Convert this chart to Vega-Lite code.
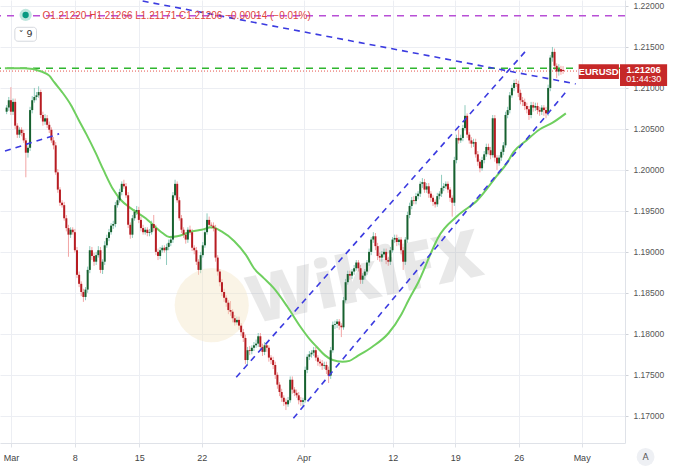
{
  "$schema": "https://vega.github.io/schema/vega-lite/v6.json",
  "width": 625,
  "height": 443,
  "autosize": {"type": "none"},
  "padding": {"left": 0, "top": 0, "right": 55, "bottom": 26},
  "background": "#ffffff",
  "config": {
    "view": {"stroke": null},
    "font": "Liberation Sans",
    "axisX": {"grid": true, "gridColor": "#eceef3", "gridWidth": 1, "domainColor": "#dfe2e8", "tickColor": "#dfe2e8", "tickSize": 4,
      "labelColor": "#444444", "labelFontSize": 9, "labelFont": "Liberation Sans", "labelPadding": 6,
      "labelFlush": false, "labelOverlap": false, "labelBound": false},
    "axisY": {"grid": true, "gridColor": "#eceef3", "gridWidth": 1, "domainColor": "#dfe2e8", "tickColor": "#cfd2d8", "tickSize": 3,
      "labelColor": "#555555", "labelFontSize": 8.5, "labelFont": "Liberation Sans", "labelPadding": 5}
  },
  "datasets": {
    "candles": [
      {"k":-2,"o":1.2071,"h":1.2079,"l":1.2068,"c":1.2076},
      {"k":-1,"o":1.2076,"h":1.2089,"l":1.2072,"c":1.2085},
      {"k":0,"o":1.2085,"h":1.2101,"l":1.2067,"c":1.2071},
      {"k":1,"o":1.2071,"h":1.2087,"l":1.2067,"c":1.2083},
      {"k":2,"o":1.2083,"h":1.2087,"l":1.2050,"c":1.2054},
      {"k":3,"o":1.2054,"h":1.2057,"l":1.2039,"c":1.2043},
      {"k":4,"o":1.2043,"h":1.2052,"l":1.2039,"c":1.2049},
      {"k":5,"o":1.2049,"h":1.2052,"l":1.2041,"c":1.2045},
      {"k":6,"o":1.2045,"h":1.2049,"l":1.2033,"c":1.2036},
      {"k":7,"o":1.2036,"h":1.2039,"l":1.1991,"c":1.2021},
      {"k":8,"o":1.2021,"h":1.2030,"l":1.2015,"c":1.2027},
      {"k":9,"o":1.2027,"h":1.2077,"l":1.2023,"c":1.2073},
      {"k":10,"o":1.2073,"h":1.2090,"l":1.2069,"c":1.2085},
      {"k":11,"o":1.2085,"h":1.2100,"l":1.2082,"c":1.2089},
      {"k":12,"o":1.2089,"h":1.2095,"l":1.2085,"c":1.2091},
      {"k":13,"o":1.2091,"h":1.2102,"l":1.2088,"c":1.2095},
      {"k":14,"o":1.2095,"h":1.2098,"l":1.2063,"c":1.2067},
      {"k":15,"o":1.2067,"h":1.2071,"l":1.2054,"c":1.2059},
      {"k":16,"o":1.2059,"h":1.2068,"l":1.2055,"c":1.2063},
      {"k":17,"o":1.2063,"h":1.2067,"l":1.2051,"c":1.2055},
      {"k":18,"o":1.2055,"h":1.2059,"l":1.2045,"c":1.2049},
      {"k":19,"o":1.2049,"h":1.2052,"l":1.2033,"c":1.2036},
      {"k":20,"o":1.2036,"h":1.2040,"l":1.2025,"c":1.2030},
      {"k":21,"o":1.2030,"h":1.2034,"l":1.1994,"c":1.1997},
      {"k":22,"o":1.1997,"h":1.2001,"l":1.1972,"c":1.1976},
      {"k":23,"o":1.1976,"h":1.1979,"l":1.1956,"c":1.1960},
      {"k":24,"o":1.1960,"h":1.1963,"l":1.1954,"c":1.1957},
      {"k":25,"o":1.1957,"h":1.1961,"l":1.1938,"c":1.1941},
      {"k":26,"o":1.1941,"h":1.1945,"l":1.1925,"c":1.1929},
      {"k":27,"o":1.1929,"h":1.1933,"l":1.1894,"c":1.1921},
      {"k":28,"o":1.1921,"h":1.1930,"l":1.1917,"c":1.1927},
      {"k":29,"o":1.1927,"h":1.1930,"l":1.1921,"c":1.1924},
      {"k":30,"o":1.1924,"h":1.1928,"l":1.1899,"c":1.1902},
      {"k":31,"o":1.1902,"h":1.1906,"l":1.1868,"c":1.1872},
      {"k":32,"o":1.1872,"h":1.1876,"l":1.1857,"c":1.1861},
      {"k":33,"o":1.1861,"h":1.1864,"l":1.1846,"c":1.1851},
      {"k":34,"o":1.1851,"h":1.1855,"l":1.1839,"c":1.1845},
      {"k":35,"o":1.1845,"h":1.1857,"l":1.1841,"c":1.1854},
      {"k":36,"o":1.1854,"h":1.1882,"l":1.1850,"c":1.1878},
      {"k":37,"o":1.1878,"h":1.1907,"l":1.1874,"c":1.1902},
      {"k":38,"o":1.1902,"h":1.1906,"l":1.1890,"c":1.1895},
      {"k":39,"o":1.1895,"h":1.1899,"l":1.1883,"c":1.1888},
      {"k":40,"o":1.1888,"h":1.1900,"l":1.1884,"c":1.1896},
      {"k":41,"o":1.1896,"h":1.1907,"l":1.1893,"c":1.1902},
      {"k":42,"o":1.1902,"h":1.1906,"l":1.1874,"c":1.1878},
      {"k":43,"o":1.1878,"h":1.1891,"l":1.1873,"c":1.1888},
      {"k":44,"o":1.1888,"h":1.1913,"l":1.1884,"c":1.1908},
      {"k":45,"o":1.1908,"h":1.1921,"l":1.1905,"c":1.1917},
      {"k":46,"o":1.1917,"h":1.1928,"l":1.1913,"c":1.1924},
      {"k":47,"o":1.1924,"h":1.1935,"l":1.1921,"c":1.1932},
      {"k":48,"o":1.1932,"h":1.1938,"l":1.1928,"c":1.1934},
      {"k":49,"o":1.1934,"h":1.1961,"l":1.1930,"c":1.1957},
      {"k":50,"o":1.1957,"h":1.1967,"l":1.1954,"c":1.1963},
      {"k":51,"o":1.1963,"h":1.1977,"l":1.1960,"c":1.1973},
      {"k":52,"o":1.1973,"h":1.1986,"l":1.1969,"c":1.1983},
      {"k":53,"o":1.1983,"h":1.1988,"l":1.1977,"c":1.1980},
      {"k":54,"o":1.1980,"h":1.1984,"l":1.1966,"c":1.1969},
      {"k":55,"o":1.1969,"h":1.1973,"l":1.1929,"c":1.1933},
      {"k":56,"o":1.1933,"h":1.1936,"l":1.1916,"c":1.1921},
      {"k":57,"o":1.1921,"h":1.1945,"l":1.1917,"c":1.1941},
      {"k":58,"o":1.1941,"h":1.1952,"l":1.1938,"c":1.1949},
      {"k":59,"o":1.1949,"h":1.1956,"l":1.1945,"c":1.1951},
      {"k":60,"o":1.1951,"h":1.1955,"l":1.1935,"c":1.1939},
      {"k":61,"o":1.1939,"h":1.1943,"l":1.1925,"c":1.1929},
      {"k":62,"o":1.1929,"h":1.1933,"l":1.1921,"c":1.1924},
      {"k":63,"o":1.1924,"h":1.1930,"l":1.1921,"c":1.1927},
      {"k":64,"o":1.1927,"h":1.1930,"l":1.1919,"c":1.1923},
      {"k":65,"o":1.1923,"h":1.1928,"l":1.1919,"c":1.1924},
      {"k":66,"o":1.1924,"h":1.1938,"l":1.1921,"c":1.1934},
      {"k":67,"o":1.1934,"h":1.1945,"l":1.1925,"c":1.1929},
      {"k":68,"o":1.1929,"h":1.1933,"l":1.1896,"c":1.1900},
      {"k":69,"o":1.1900,"h":1.1904,"l":1.1890,"c":1.1895},
      {"k":70,"o":1.1895,"h":1.1906,"l":1.1891,"c":1.1902},
      {"k":71,"o":1.1902,"h":1.1908,"l":1.1899,"c":1.1905},
      {"k":72,"o":1.1905,"h":1.1908,"l":1.1899,"c":1.1902},
      {"k":73,"o":1.1902,"h":1.1910,"l":1.1884,"c":1.1906},
      {"k":74,"o":1.1906,"h":1.1915,"l":1.1902,"c":1.1911},
      {"k":75,"o":1.1911,"h":1.1919,"l":1.1907,"c":1.1915},
      {"k":76,"o":1.1915,"h":1.1973,"l":1.1911,"c":1.1969},
      {"k":77,"o":1.1969,"h":1.1988,"l":1.1966,"c":1.1983},
      {"k":78,"o":1.1983,"h":1.1986,"l":1.1960,"c":1.1963},
      {"k":79,"o":1.1963,"h":1.1967,"l":1.1938,"c":1.1941},
      {"k":80,"o":1.1941,"h":1.1945,"l":1.1923,"c":1.1927},
      {"k":81,"o":1.1927,"h":1.1930,"l":1.1917,"c":1.1921},
      {"k":82,"o":1.1921,"h":1.1924,"l":1.1910,"c":1.1915},
      {"k":83,"o":1.1915,"h":1.1930,"l":1.1911,"c":1.1927},
      {"k":84,"o":1.1927,"h":1.1932,"l":1.1921,"c":1.1924},
      {"k":85,"o":1.1924,"h":1.1928,"l":1.1901,"c":1.1905},
      {"k":86,"o":1.1905,"h":1.1908,"l":1.1897,"c":1.1902},
      {"k":87,"o":1.1902,"h":1.1906,"l":1.1884,"c":1.1888},
      {"k":88,"o":1.1888,"h":1.1891,"l":1.1872,"c":1.1878},
      {"k":89,"o":1.1878,"h":1.1900,"l":1.1874,"c":1.1896},
      {"k":90,"o":1.1896,"h":1.1912,"l":1.1893,"c":1.1908},
      {"k":91,"o":1.1908,"h":1.1928,"l":1.1905,"c":1.1924},
      {"k":92,"o":1.1924,"h":1.1947,"l":1.1921,"c":1.1939},
      {"k":93,"o":1.1939,"h":1.1943,"l":1.1929,"c":1.1933},
      {"k":94,"o":1.1933,"h":1.1936,"l":1.1928,"c":1.1932},
      {"k":95,"o":1.1932,"h":1.1936,"l":1.1925,"c":1.1929},
      {"k":96,"o":1.1929,"h":1.1933,"l":1.1888,"c":1.1893},
      {"k":97,"o":1.1893,"h":1.1896,"l":1.1871,"c":1.1876},
      {"k":98,"o":1.1876,"h":1.1879,"l":1.1858,"c":1.1863},
      {"k":99,"o":1.1863,"h":1.1867,"l":1.1846,"c":1.1851},
      {"k":100,"o":1.1851,"h":1.1855,"l":1.1839,"c":1.1844},
      {"k":101,"o":1.1844,"h":1.1847,"l":1.1833,"c":1.1838},
      {"k":102,"o":1.1838,"h":1.1841,"l":1.1824,"c":1.1829},
      {"k":103,"o":1.1829,"h":1.1840,"l":1.1822,"c":1.1827},
      {"k":104,"o":1.1827,"h":1.1830,"l":1.1814,"c":1.1819},
      {"k":105,"o":1.1819,"h":1.1823,"l":1.1810,"c":1.1814},
      {"k":106,"o":1.1814,"h":1.1821,"l":1.1811,"c":1.1817},
      {"k":107,"o":1.1817,"h":1.1821,"l":1.1805,"c":1.1810},
      {"k":108,"o":1.1810,"h":1.1813,"l":1.1797,"c":1.1802},
      {"k":109,"o":1.1802,"h":1.1806,"l":1.1790,"c":1.1795},
      {"k":110,"o":1.1795,"h":1.1799,"l":1.1763,"c":1.1768},
      {"k":111,"o":1.1768,"h":1.1784,"l":1.1762,"c":1.1780},
      {"k":112,"o":1.1780,"h":1.1785,"l":1.1774,"c":1.1779},
      {"k":113,"o":1.1779,"h":1.1786,"l":1.1775,"c":1.1783},
      {"k":114,"o":1.1783,"h":1.1790,"l":1.1779,"c":1.1786},
      {"k":115,"o":1.1786,"h":1.1793,"l":1.1783,"c":1.1788},
      {"k":116,"o":1.1788,"h":1.1801,"l":1.1784,"c":1.1797},
      {"k":117,"o":1.1797,"h":1.1801,"l":1.1779,"c":1.1784},
      {"k":118,"o":1.1784,"h":1.1788,"l":1.1773,"c":1.1778},
      {"k":119,"o":1.1778,"h":1.1790,"l":1.1774,"c":1.1786},
      {"k":120,"o":1.1786,"h":1.1790,"l":1.1778,"c":1.1783},
      {"k":121,"o":1.1783,"h":1.1786,"l":1.1766,"c":1.1771},
      {"k":122,"o":1.1771,"h":1.1774,"l":1.1763,"c":1.1768},
      {"k":123,"o":1.1768,"h":1.1772,"l":1.1757,"c":1.1762},
      {"k":124,"o":1.1762,"h":1.1766,"l":1.1745,"c":1.1750},
      {"k":125,"o":1.1750,"h":1.1753,"l":1.1733,"c":1.1738},
      {"k":126,"o":1.1738,"h":1.1741,"l":1.1724,"c":1.1729},
      {"k":127,"o":1.1729,"h":1.1733,"l":1.1717,"c":1.1722},
      {"k":128,"o":1.1722,"h":1.1725,"l":1.1712,"c":1.1717},
      {"k":129,"o":1.1717,"h":1.1721,"l":1.1707,"c":1.1714},
      {"k":130,"o":1.1714,"h":1.1723,"l":1.1711,"c":1.1719},
      {"k":131,"o":1.1719,"h":1.1748,"l":1.1716,"c":1.1744},
      {"k":132,"o":1.1744,"h":1.1748,"l":1.1727,"c":1.1732},
      {"k":133,"o":1.1732,"h":1.1735,"l":1.1724,"c":1.1728},
      {"k":134,"o":1.1728,"h":1.1732,"l":1.1722,"c":1.1725},
      {"k":135,"o":1.1725,"h":1.1729,"l":1.1714,"c":1.1719},
      {"k":136,"o":1.1719,"h":1.1723,"l":1.1712,"c":1.1717},
      {"k":137,"o":1.1717,"h":1.1722,"l":1.1711,"c":1.1719},
      {"k":138,"o":1.1719,"h":1.1760,"l":1.1716,"c":1.1756},
      {"k":139,"o":1.1756,"h":1.1775,"l":1.1752,"c":1.1772},
      {"k":140,"o":1.1772,"h":1.1779,"l":1.1768,"c":1.1775},
      {"k":141,"o":1.1775,"h":1.1780,"l":1.1771,"c":1.1777},
      {"k":142,"o":1.1777,"h":1.1784,"l":1.1773,"c":1.1780},
      {"k":143,"o":1.1780,"h":1.1784,"l":1.1767,"c":1.1771},
      {"k":144,"o":1.1771,"h":1.1774,"l":1.1761,"c":1.1766},
      {"k":145,"o":1.1766,"h":1.1769,"l":1.1760,"c":1.1764},
      {"k":146,"o":1.1764,"h":1.1768,"l":1.1756,"c":1.1761},
      {"k":147,"o":1.1761,"h":1.1766,"l":1.1757,"c":1.1762},
      {"k":148,"o":1.1762,"h":1.1766,"l":1.1751,"c":1.1756},
      {"k":149,"o":1.1756,"h":1.1760,"l":1.1740,"c":1.1749},
      {"k":150,"o":1.1749,"h":1.1784,"l":1.1745,"c":1.1780},
      {"k":151,"o":1.1780,"h":1.1815,"l":1.1777,"c":1.1811},
      {"k":152,"o":1.1811,"h":1.1816,"l":1.1806,"c":1.1812},
      {"k":153,"o":1.1812,"h":1.1818,"l":1.1807,"c":1.1815},
      {"k":154,"o":1.1815,"h":1.1818,"l":1.1805,"c":1.1810},
      {"k":155,"o":1.1810,"h":1.1813,"l":1.1796,"c":1.1808},
      {"k":156,"o":1.1808,"h":1.1845,"l":1.1805,"c":1.1841},
      {"k":157,"o":1.1841,"h":1.1867,"l":1.1838,"c":1.1863},
      {"k":158,"o":1.1863,"h":1.1877,"l":1.1860,"c":1.1873},
      {"k":159,"o":1.1873,"h":1.1877,"l":1.1866,"c":1.1871},
      {"k":160,"o":1.1871,"h":1.1879,"l":1.1867,"c":1.1876},
      {"k":161,"o":1.1876,"h":1.1884,"l":1.1872,"c":1.1880},
      {"k":162,"o":1.1880,"h":1.1890,"l":1.1877,"c":1.1887},
      {"k":163,"o":1.1887,"h":1.1890,"l":1.1876,"c":1.1880},
      {"k":164,"o":1.1880,"h":1.1884,"l":1.1861,"c":1.1866},
      {"k":165,"o":1.1866,"h":1.1874,"l":1.1861,"c":1.1871},
      {"k":166,"o":1.1871,"h":1.1879,"l":1.1866,"c":1.1876},
      {"k":167,"o":1.1876,"h":1.1890,"l":1.1872,"c":1.1887},
      {"k":168,"o":1.1887,"h":1.1904,"l":1.1883,"c":1.1900},
      {"k":169,"o":1.1900,"h":1.1918,"l":1.1896,"c":1.1915},
      {"k":170,"o":1.1915,"h":1.1924,"l":1.1911,"c":1.1919},
      {"k":171,"o":1.1919,"h":1.1923,"l":1.1902,"c":1.1907},
      {"k":172,"o":1.1907,"h":1.1911,"l":1.1890,"c":1.1895},
      {"k":173,"o":1.1895,"h":1.1899,"l":1.1888,"c":1.1893},
      {"k":174,"o":1.1893,"h":1.1901,"l":1.1888,"c":1.1897},
      {"k":175,"o":1.1897,"h":1.1904,"l":1.1893,"c":1.1900},
      {"k":176,"o":1.1900,"h":1.1904,"l":1.1885,"c":1.1890},
      {"k":177,"o":1.1890,"h":1.1894,"l":1.1883,"c":1.1888},
      {"k":178,"o":1.1888,"h":1.1906,"l":1.1884,"c":1.1902},
      {"k":179,"o":1.1902,"h":1.1918,"l":1.1899,"c":1.1915},
      {"k":180,"o":1.1915,"h":1.1921,"l":1.1911,"c":1.1917},
      {"k":181,"o":1.1917,"h":1.1921,"l":1.1907,"c":1.1912},
      {"k":182,"o":1.1912,"h":1.1918,"l":1.1908,"c":1.1915},
      {"k":183,"o":1.1915,"h":1.1918,"l":1.1897,"c":1.1902},
      {"k":184,"o":1.1902,"h":1.1906,"l":1.1878,"c":1.1888},
      {"k":185,"o":1.1888,"h":1.1918,"l":1.1884,"c":1.1915},
      {"k":186,"o":1.1915,"h":1.1949,"l":1.1911,"c":1.1945},
      {"k":187,"o":1.1945,"h":1.1960,"l":1.1941,"c":1.1956},
      {"k":188,"o":1.1956,"h":1.1967,"l":1.1952,"c":1.1963},
      {"k":189,"o":1.1963,"h":1.1968,"l":1.1958,"c":1.1962},
      {"k":190,"o":1.1962,"h":1.1972,"l":1.1958,"c":1.1968},
      {"k":191,"o":1.1968,"h":1.1974,"l":1.1964,"c":1.1971},
      {"k":192,"o":1.1971,"h":1.1986,"l":1.1967,"c":1.1983},
      {"k":193,"o":1.1983,"h":1.1990,"l":1.1978,"c":1.1985},
      {"k":194,"o":1.1985,"h":1.1989,"l":1.1972,"c":1.1976},
      {"k":195,"o":1.1976,"h":1.1984,"l":1.1972,"c":1.1980},
      {"k":196,"o":1.1980,"h":1.1984,"l":1.1966,"c":1.1971},
      {"k":197,"o":1.1971,"h":1.1974,"l":1.1961,"c":1.1966},
      {"k":198,"o":1.1966,"h":1.1969,"l":1.1956,"c":1.1961},
      {"k":199,"o":1.1961,"h":1.1964,"l":1.1954,"c":1.1958},
      {"k":200,"o":1.1958,"h":1.1972,"l":1.1955,"c":1.1968},
      {"k":201,"o":1.1968,"h":1.1974,"l":1.1964,"c":1.1971},
      {"k":202,"o":1.1971,"h":1.1994,"l":1.1967,"c":1.1978},
      {"k":203,"o":1.1978,"h":1.1984,"l":1.1974,"c":1.1980},
      {"k":204,"o":1.1980,"h":1.1986,"l":1.1977,"c":1.1983},
      {"k":205,"o":1.1983,"h":1.1986,"l":1.1972,"c":1.1976},
      {"k":206,"o":1.1976,"h":1.1979,"l":1.1961,"c":1.1966},
      {"k":207,"o":1.1966,"h":1.1969,"l":1.1943,"c":1.1960},
      {"k":208,"o":1.1960,"h":1.2016,"l":1.1956,"c":1.2012},
      {"k":209,"o":1.2012,"h":1.2043,"l":1.2008,"c":1.2039},
      {"k":210,"o":1.2039,"h":1.2049,"l":1.2032,"c":1.2036},
      {"k":211,"o":1.2036,"h":1.2043,"l":1.2033,"c":1.2039},
      {"k":212,"o":1.2039,"h":1.2055,"l":1.2035,"c":1.2051},
      {"k":213,"o":1.2051,"h":1.2079,"l":1.2048,"c":1.2066},
      {"k":214,"o":1.2066,"h":1.2069,"l":1.2039,"c":1.2043},
      {"k":215,"o":1.2043,"h":1.2046,"l":1.2032,"c":1.2036},
      {"k":216,"o":1.2036,"h":1.2040,"l":1.2027,"c":1.2032},
      {"k":217,"o":1.2032,"h":1.2038,"l":1.2028,"c":1.2034},
      {"k":218,"o":1.2034,"h":1.2038,"l":1.2015,"c":1.2019},
      {"k":219,"o":1.2019,"h":1.2023,"l":1.2005,"c":1.2010},
      {"k":220,"o":1.2010,"h":1.2013,"l":1.1997,"c":1.2002},
      {"k":221,"o":1.2002,"h":1.2016,"l":1.1999,"c":1.2012},
      {"k":222,"o":1.2012,"h":1.2023,"l":1.2008,"c":1.2019},
      {"k":223,"o":1.2019,"h":1.2032,"l":1.2016,"c":1.2028},
      {"k":224,"o":1.2028,"h":1.2032,"l":1.2019,"c":1.2024},
      {"k":225,"o":1.2024,"h":1.2028,"l":1.2013,"c":1.2018},
      {"k":226,"o":1.2018,"h":1.2067,"l":1.2015,"c":1.2063},
      {"k":227,"o":1.2063,"h":1.2067,"l":1.2010,"c":1.2015},
      {"k":228,"o":1.2015,"h":1.2018,"l":1.2000,"c":1.2008},
      {"k":229,"o":1.2008,"h":1.2018,"l":1.2005,"c":1.2015},
      {"k":230,"o":1.2015,"h":1.2025,"l":1.2011,"c":1.2022},
      {"k":231,"o":1.2022,"h":1.2034,"l":1.2018,"c":1.2030},
      {"k":232,"o":1.2030,"h":1.2071,"l":1.2027,"c":1.2067},
      {"k":233,"o":1.2067,"h":1.2077,"l":1.2063,"c":1.2073},
      {"k":234,"o":1.2073,"h":1.2095,"l":1.2069,"c":1.2091},
      {"k":235,"o":1.2091,"h":1.2104,"l":1.2088,"c":1.2100},
      {"k":236,"o":1.2100,"h":1.2110,"l":1.2096,"c":1.2106},
      {"k":237,"o":1.2106,"h":1.2111,"l":1.2101,"c":1.2105},
      {"k":238,"o":1.2105,"h":1.2109,"l":1.2089,"c":1.2094},
      {"k":239,"o":1.2094,"h":1.2098,"l":1.2080,"c":1.2085},
      {"k":240,"o":1.2085,"h":1.2089,"l":1.2078,"c":1.2083},
      {"k":241,"o":1.2083,"h":1.2087,"l":1.2073,"c":1.2078},
      {"k":242,"o":1.2078,"h":1.2082,"l":1.2069,"c":1.2074},
      {"k":243,"o":1.2074,"h":1.2078,"l":1.2061,"c":1.2067},
      {"k":244,"o":1.2067,"h":1.2083,"l":1.2063,"c":1.2079},
      {"k":245,"o":1.2079,"h":1.2083,"l":1.2071,"c":1.2076},
      {"k":246,"o":1.2076,"h":1.2082,"l":1.2072,"c":1.2078},
      {"k":247,"o":1.2078,"h":1.2082,"l":1.2068,"c":1.2073},
      {"k":248,"o":1.2073,"h":1.2077,"l":1.2066,"c":1.2071},
      {"k":249,"o":1.2071,"h":1.2079,"l":1.2067,"c":1.2076},
      {"k":250,"o":1.2076,"h":1.2079,"l":1.2066,"c":1.2073},
      {"k":251,"o":1.2073,"h":1.2077,"l":1.2063,"c":1.2069},
      {"k":252,"o":1.2069,"h":1.2104,"l":1.2066,"c":1.2100},
      {"k":253,"o":1.2100,"h":1.2140,"l":1.2096,"c":1.2137},
      {"k":254,"o":1.2137,"h":1.2150,"l":1.2132,"c":1.2144},
      {"k":255,"o":1.2144,"h":1.2148,"l":1.2122,"c":1.2127},
      {"k":256,"o":1.2127,"h":1.2130,"l":1.2112,"c":1.2120},
      {"k":257,"o":1.2120,"h":1.2129,"l":1.2115,"c":1.2123},
      {"k":258,"o":1.2123,"h":1.2127,"l":1.2116,"c":1.2120},
      {"k":259,"o":1.2122,"h":1.21266,"l":1.21171,"c":1.21206}
    ],
    "ma": [
      {"k":-2.8,"p":1.2124},{"k":6.5,"p":1.2124},{"k":14.3,"p":1.2120},{"k":18,"p":1.2115},
      {"k":20.3,"p":1.2107},{"k":24,"p":1.2095},{"k":28.2,"p":1.2079},{"k":31.8,"p":1.2061},
      {"k":35.5,"p":1.2043},{"k":39.7,"p":1.2021},{"k":43.4,"p":1.2000},{"k":48,"p":1.1976},
      {"k":51.7,"p":1.1963},{"k":55.8,"p":1.1954},{"k":63.2,"p":1.1941},{"k":71.1,"p":1.1923},
      {"k":74.3,"p":1.1918},{"k":78,"p":1.1919},{"k":84.9,"p":1.1925},{"k":89.5,"p":1.1927},
      {"k":94.2,"p":1.1930},{"k":98.8,"p":1.1925},{"k":104.8,"p":1.1913},{"k":110.3,"p":1.1896},
      {"k":114,"p":1.1880},{"k":118.6,"p":1.1868},{"k":123.2,"p":1.1856},{"k":129.7,"p":1.1833},
      {"k":135.7,"p":1.1809},{"k":140.3,"p":1.1793},{"k":143.5,"p":1.1784},{"k":147.2,"p":1.1774},
      {"k":150.9,"p":1.1768},{"k":155.5,"p":1.1766},{"k":158.8,"p":1.1767},{"k":162,"p":1.1772},
      {"k":169.4,"p":1.1784},{"k":177.2,"p":1.1801},{"k":183.2,"p":1.1824},{"k":186.5,"p":1.1841},
      {"k":191.1,"p":1.1863},{"k":197.1,"p":1.1899},{"k":200.3,"p":1.1917},{"k":209.5,"p":1.1944},
      {"k":218.8,"p":1.1963},{"k":228,"p":1.1993},{"k":232.6,"p":1.2008},{"k":235.8,"p":1.2022},
      {"k":241.8,"p":1.2036},{"k":247.8,"p":1.2049},{"k":254.3,"p":1.2058},{"k":260.3,"p":1.2069}
    ],
    "trend": [
      {"id":"a","k":61.8,"p":1.2206},{"id":"a","k":264.9,"p":1.2105},
      {"id":"b","k":105.7,"p":1.1747},{"id":"b","k":241.8,"p":1.2146},
      {"id":"c","k":132.5,"p":1.1697},{"id":"c","k":260.3,"p":1.2095},
      {"id":"d","k":-2.77,"p":1.2023},{"id":"d","k":22.6,"p":1.2044}
    ]
  },
  "layer": [
    {
      "data": {"name": "candles"},
      "mark": {"type": "rule", "strokeWidth": 1},
      "encoding": {
        "x": {"field": "k", "type": "quantitative", "title": null, "scale": {"domain": [-2.77, 285.7], "nice": false, "zero": false},
          "axis": {"title": null, "labelFlush": false, "labelAlign": "center", "values": [0, 30, 60.2, 89.5, 137.3, 179.1, 208.4, 238.2, 267.7], "labelExpr": "['Mar','8','15','22','Apr','12','19','26','May'][indexof([0,30,60.2,89.5,137.3,179.1,208.4,238.2,267.7], datum.value)]"}},
        "y": {"field": "l", "type": "quantitative", "title": null, "scale": {"domain": [1.16668, 1.22073], "nice": false, "zero": false},
          "axis": {"title": null, "orient": "right", "values": [1.17, 1.175, 1.18, 1.185, 1.19, 1.195, 1.2, 1.205, 1.21, 1.215, 1.22], "format": ".5f"}},
        "y2": {"field": "h"},
        "color": {"condition": {"test": "datum.c >= datum.o", "value": "#8fcbbd"}, "value": "#f2a5a5"}
      }
    },
    {
      "data": {"values": [{}]},
      "mark": {"type": "point", "filled": true, "size": 5500, "color": "#f3e3c0", "opacity": 0.4},
      "encoding": {
        "x": {"datum": 94.2, "type": "quantitative", "title": null, "scale": {"domain": [-2.77, 285.7], "nice": false, "zero": false},
          "axis": {"title": null, "labelFlush": false, "labelAlign": "center", "values": [0, 30, 60.2, 89.5, 137.3, 179.1, 208.4, 238.2, 267.7], "labelExpr": "['Mar','8','15','22','Apr','12','19','26','May'][indexof([0,30,60.2,89.5,137.3,179.1,208.4,238.2,267.7], datum.value)]"}},
        "y": {"datum": 1.1835, "type": "quantitative", "title": null, "scale": {"domain": [1.16668, 1.22073], "nice": false, "zero": false},
          "axis": {"title": null, "orient": "right", "values": [1.17, 1.175, 1.18, 1.185, 1.19, 1.195, 1.2, 1.205, 1.21, 1.215, 1.22], "format": ".5f"}}
      }
    },
    {
      "data": {"values": [{}]},
      "mark": {"type": "text", "text": "WikiFX", "font": "Open Sans", "fontWeight": 800, "fontSize": 66, "angle": -12, "color": "#9a9a9a", "opacity": 0.22, "align": "center", "baseline": "middle"},
      "encoding": {
        "x": {"datum": 166, "type": "quantitative", "title": null, "scale": {"domain": [-2.77, 285.7], "nice": false, "zero": false},
          "axis": {"title": null, "labelFlush": false, "labelAlign": "center", "values": [0, 30, 60.2, 89.5, 137.3, 179.1, 208.4, 238.2, 267.7], "labelExpr": "['Mar','8','15','22','Apr','12','19','26','May'][indexof([0,30,60.2,89.5,137.3,179.1,208.4,238.2,267.7], datum.value)]"}},
        "y": {"datum": 1.1866, "type": "quantitative", "title": null, "scale": {"domain": [1.16668, 1.22073], "nice": false, "zero": false},
          "axis": {"title": null, "orient": "right", "values": [1.17, 1.175, 1.18, 1.185, 1.19, 1.195, 1.2, 1.205, 1.21, 1.215, 1.22], "format": ".5f"}}
      }
    },
    {
      "data": {"values": [{}]},
      "mark": {"type": "rule", "color": "#b84fd6", "strokeWidth": 1.5, "strokeDash": [7, 6]},
      "encoding": {
        "y": {"datum": 1.2188, "type": "quantitative", "title": null, "scale": {"domain": [1.16668, 1.22073], "nice": false, "zero": false},
          "axis": {"title": null, "orient": "right", "values": [1.17, 1.175, 1.18, 1.185, 1.19, 1.195, 1.2, 1.205, 1.21, 1.215, 1.22], "format": ".5f"}}
      }
    },
    {
      "data": {"values": [{}]},
      "mark": {"type": "rule", "color": "#2fb62f", "strokeWidth": 1.5, "strokeDash": [7, 6]},
      "encoding": {
        "y": {"datum": 1.2124, "type": "quantitative", "title": null, "scale": {"domain": [1.16668, 1.22073], "nice": false, "zero": false},
          "axis": {"title": null, "orient": "right", "values": [1.17, 1.175, 1.18, 1.185, 1.19, 1.195, 1.2, 1.205, 1.21, 1.215, 1.22], "format": ".5f"}}
      }
    },
    {
      "data": {"values": [{}]},
      "mark": {"type": "rule", "color": "#e5534b", "strokeWidth": 1, "strokeDash": [1, 2]},
      "encoding": {
        "y": {"datum": 1.21206, "type": "quantitative", "title": null, "scale": {"domain": [1.16668, 1.22073], "nice": false, "zero": false},
          "axis": {"title": null, "orient": "right", "values": [1.17, 1.175, 1.18, 1.185, 1.19, 1.195, 1.2, 1.205, 1.21, 1.215, 1.22], "format": ".5f"}}
      }
    },
    {
      "data": {"name": "ma"},
      "mark": {"type": "line", "color": "#6fcf5f", "strokeWidth": 2, "interpolate": "monotone"},
      "encoding": {
        "x": {"field": "k", "type": "quantitative", "title": null, "scale": {"domain": [-2.77, 285.7], "nice": false, "zero": false},
          "axis": {"title": null, "labelFlush": false, "labelAlign": "center", "values": [0, 30, 60.2, 89.5, 137.3, 179.1, 208.4, 238.2, 267.7], "labelExpr": "['Mar','8','15','22','Apr','12','19','26','May'][indexof([0,30,60.2,89.5,137.3,179.1,208.4,238.2,267.7], datum.value)]"}},
        "y": {"field": "p", "type": "quantitative", "title": null, "scale": {"domain": [1.16668, 1.22073], "nice": false, "zero": false},
          "axis": {"title": null, "orient": "right", "values": [1.17, 1.175, 1.18, 1.185, 1.19, 1.195, 1.2, 1.205, 1.21, 1.215, 1.22], "format": ".5f"}}
      }
    },
    {
      "data": {"name": "candles"},
      "mark": {"type": "bar", "size": 2},
      "encoding": {
        "x": {"field": "k", "type": "quantitative", "title": null, "scale": {"domain": [-2.77, 285.7], "nice": false, "zero": false},
          "axis": {"title": null, "labelFlush": false, "labelAlign": "center", "values": [0, 30, 60.2, 89.5, 137.3, 179.1, 208.4, 238.2, 267.7], "labelExpr": "['Mar','8','15','22','Apr','12','19','26','May'][indexof([0,30,60.2,89.5,137.3,179.1,208.4,238.2,267.7], datum.value)]"}},
        "y": {"field": "o", "type": "quantitative", "title": null, "scale": {"domain": [1.16668, 1.22073], "nice": false, "zero": false},
          "axis": {"title": null, "orient": "right", "values": [1.17, 1.175, 1.18, 1.185, 1.19, 1.195, 1.2, 1.205, 1.21, 1.215, 1.22], "format": ".5f"}},
        "y2": {"field": "c"},
        "color": {"condition": {"test": "datum.c >= datum.o", "value": "#17612f"}, "value": "#b71c22"}
      }
    },
    {
      "data": {"name": "trend"},
      "mark": {"type": "line", "color": "#3b3be0", "strokeWidth": 1.6, "strokeDash": [6, 5], "clip": true},
      "encoding": {
        "x": {"field": "k", "type": "quantitative", "title": null, "scale": {"domain": [-2.77, 285.7], "nice": false, "zero": false},
          "axis": {"title": null, "labelFlush": false, "labelAlign": "center", "values": [0, 30, 60.2, 89.5, 137.3, 179.1, 208.4, 238.2, 267.7], "labelExpr": "['Mar','8','15','22','Apr','12','19','26','May'][indexof([0,30,60.2,89.5,137.3,179.1,208.4,238.2,267.7], datum.value)]"}},
        "y": {"field": "p", "type": "quantitative", "title": null, "scale": {"domain": [1.16668, 1.22073], "nice": false, "zero": false},
          "axis": {"title": null, "orient": "right", "values": [1.17, 1.175, 1.18, 1.185, 1.19, 1.195, 1.2, 1.205, 1.21, 1.215, 1.22], "format": ".5f"}},
        "detail": {"field": "id"}
      }
    },
    {
      "data": {"values": [{}]},
      "mark": {"type": "rect", "color": "#c62828"},
      "encoding": {
        "x": {"datum": 266.3, "type": "quantitative", "title": null, "scale": {"domain": [-2.77, 285.7], "nice": false, "zero": false},
          "axis": {"title": null, "labelFlush": false, "labelAlign": "center", "values": [0, 30, 60.2, 89.5, 137.3, 179.1, 208.4, 238.2, 267.7], "labelExpr": "['Mar','8','15','22','Apr','12','19','26','May'][indexof([0,30,60.2,89.5,137.3,179.1,208.4,238.2,267.7], datum.value)]"}},
        "x2": {"datum": 285.2},
        "y": {"datum": 1.2129, "type": "quantitative", "title": null, "scale": {"domain": [1.16668, 1.22073], "nice": false, "zero": false},
          "axis": {"title": null, "orient": "right", "values": [1.17, 1.175, 1.18, 1.185, 1.19, 1.195, 1.2, 1.205, 1.21, 1.215, 1.22], "format": ".5f"}},
        "y2": {"datum": 1.2111}
      }
    },
    {
      "data": {"values": [{}]},
      "mark": {"type": "rect", "color": "#c62828"},
      "encoding": {
        "x": {"datum": 285.7, "type": "quantitative", "title": null, "scale": {"domain": [-2.77, 285.7], "nice": false, "zero": false},
          "axis": {"title": null, "labelFlush": false, "labelAlign": "center", "values": [0, 30, 60.2, 89.5, 137.3, 179.1, 208.4, 238.2, 267.7], "labelExpr": "['Mar','8','15','22','Apr','12','19','26','May'][indexof([0,30,60.2,89.5,137.3,179.1,208.4,238.2,267.7], datum.value)]"}},
        "x2": {"datum": 307.8},
        "y": {"datum": 1.2129, "type": "quantitative", "title": null, "scale": {"domain": [1.16668, 1.22073], "nice": false, "zero": false},
          "axis": {"title": null, "orient": "right", "values": [1.17, 1.175, 1.18, 1.185, 1.19, 1.195, 1.2, 1.205, 1.21, 1.215, 1.22], "format": ".5f"}},
        "y2": {"datum": 1.21024}
      }
    },
    {
      "data": {"values": [{}]},
      "mark": {"type": "text", "text": "EURUSD", "color": "#ffffff", "fontSize": 9.5, "font": "Liberation Sans", "align": "center", "baseline": "middle", "fontWeight": "bold"},
      "encoding": {
        "x": {"datum": 275.7, "type": "quantitative", "title": null, "scale": {"domain": [-2.77, 285.7], "nice": false, "zero": false},
          "axis": {"title": null, "labelFlush": false, "labelAlign": "center", "values": [0, 30, 60.2, 89.5, 137.3, 179.1, 208.4, 238.2, 267.7], "labelExpr": "['Mar','8','15','22','Apr','12','19','26','May'][indexof([0,30,60.2,89.5,137.3,179.1,208.4,238.2,267.7], datum.value)]"}},
        "y": {"datum": 1.2120, "type": "quantitative", "title": null, "scale": {"domain": [1.16668, 1.22073], "nice": false, "zero": false},
          "axis": {"title": null, "orient": "right", "values": [1.17, 1.175, 1.18, 1.185, 1.19, 1.195, 1.2, 1.205, 1.21, 1.215, 1.22], "format": ".5f"}}
      }
    },
    {
      "data": {"values": [{}]},
      "mark": {"type": "text", "text": "1.21206", "color": "#ffffff", "fontSize": 9.5, "font": "Liberation Sans", "align": "center", "baseline": "middle", "fontWeight": "bold"},
      "encoding": {
        "x": {"datum": 296.8, "type": "quantitative", "title": null, "scale": {"domain": [-2.77, 285.7], "nice": false, "zero": false},
          "axis": {"title": null, "labelFlush": false, "labelAlign": "center", "values": [0, 30, 60.2, 89.5, 137.3, 179.1, 208.4, 238.2, 267.7], "labelExpr": "['Mar','8','15','22','Apr','12','19','26','May'][indexof([0,30,60.2,89.5,137.3,179.1,208.4,238.2,267.7], datum.value)]"}},
        "y": {"datum": 1.2122, "type": "quantitative", "title": null, "scale": {"domain": [1.16668, 1.22073], "nice": false, "zero": false},
          "axis": {"title": null, "orient": "right", "values": [1.17, 1.175, 1.18, 1.185, 1.19, 1.195, 1.2, 1.205, 1.21, 1.215, 1.22], "format": ".5f"}}
      }
    },
    {
      "data": {"values": [{}]},
      "mark": {"type": "text", "text": "01:44:30", "color": "#ffffff", "fontSize": 9, "font": "Liberation Sans", "align": "center", "baseline": "middle"},
      "encoding": {
        "x": {"datum": 296.8, "type": "quantitative", "title": null, "scale": {"domain": [-2.77, 285.7], "nice": false, "zero": false},
          "axis": {"title": null, "labelFlush": false, "labelAlign": "center", "values": [0, 30, 60.2, 89.5, 137.3, 179.1, 208.4, 238.2, 267.7], "labelExpr": "['Mar','8','15','22','Apr','12','19','26','May'][indexof([0,30,60.2,89.5,137.3,179.1,208.4,238.2,267.7], datum.value)]"}},
        "y": {"datum": 1.21108, "type": "quantitative", "title": null, "scale": {"domain": [1.16668, 1.22073], "nice": false, "zero": false},
          "axis": {"title": null, "orient": "right", "values": [1.17, 1.175, 1.18, 1.185, 1.19, 1.195, 1.2, 1.205, 1.21, 1.215, 1.22], "format": ".5f"}}
      }
    },
    {
      "data": {"values": [{}]},
      "mark": {"type": "point", "filled": true, "size": 150, "color": "#bfe6de", "opacity": 1},
      "encoding": {
        "x": {"datum": 6.9, "type": "quantitative", "title": null, "scale": {"domain": [-2.77, 285.7], "nice": false, "zero": false},
          "axis": {"title": null, "labelFlush": false, "labelAlign": "center", "values": [0, 30, 60.2, 89.5, 137.3, 179.1, 208.4, 238.2, 267.7], "labelExpr": "['Mar','8','15','22','Apr','12','19','26','May'][indexof([0,30,60.2,89.5,137.3,179.1,208.4,238.2,267.7], datum.value)]"}},
        "y": {"datum": 1.2189, "type": "quantitative", "title": null, "scale": {"domain": [1.16668, 1.22073], "nice": false, "zero": false},
          "axis": {"title": null, "orient": "right", "values": [1.17, 1.175, 1.18, 1.185, 1.19, 1.195, 1.2, 1.205, 1.21, 1.215, 1.22], "format": ".5f"}}
      }
    },
    {
      "data": {"values": [{}]},
      "mark": {"type": "point", "filled": true, "size": 40, "color": "#089981", "opacity": 1},
      "encoding": {
        "x": {"datum": 6.9, "type": "quantitative", "title": null, "scale": {"domain": [-2.77, 285.7], "nice": false, "zero": false},
          "axis": {"title": null, "labelFlush": false, "labelAlign": "center", "values": [0, 30, 60.2, 89.5, 137.3, 179.1, 208.4, 238.2, 267.7], "labelExpr": "['Mar','8','15','22','Apr','12','19','26','May'][indexof([0,30,60.2,89.5,137.3,179.1,208.4,238.2,267.7], datum.value)]"}},
        "y": {"datum": 1.2189, "type": "quantitative", "title": null, "scale": {"domain": [1.16668, 1.22073], "nice": false, "zero": false},
          "axis": {"title": null, "orient": "right", "values": [1.17, 1.175, 1.18, 1.185, 1.19, 1.195, 1.2, 1.205, 1.21, 1.215, 1.22], "format": ".5f"}}
      }
    },
    {
      "data": {"values": [{}]},
      "mark": {"type": "text", "text": "O1.21220  H1.21266  L1.21171  C1.21206  \u22120.00014 (\u22120.01%)", "color": "#e0443e", "fontSize": 10, "font": "Liberation Sans", "align": "left", "baseline": "middle"},
      "encoding": {
        "x": {"datum": 14.8, "type": "quantitative", "title": null, "scale": {"domain": [-2.77, 285.7], "nice": false, "zero": false},
          "axis": {"title": null, "labelFlush": false, "labelAlign": "center", "values": [0, 30, 60.2, 89.5, 137.3, 179.1, 208.4, 238.2, 267.7], "labelExpr": "['Mar','8','15','22','Apr','12','19','26','May'][indexof([0,30,60.2,89.5,137.3,179.1,208.4,238.2,267.7], datum.value)]"}},
        "y": {"datum": 1.2188, "type": "quantitative", "title": null, "scale": {"domain": [1.16668, 1.22073], "nice": false, "zero": false},
          "axis": {"title": null, "orient": "right", "values": [1.17, 1.175, 1.18, 1.185, 1.19, 1.195, 1.2, 1.205, 1.21, 1.215, 1.22], "format": ".5f"}}
      }
    },
    {
      "data": {"values": [{}]},
      "mark": {"type": "rect", "fill": "#ffffff", "stroke": "#d5d8de", "strokeWidth": 1, "cornerRadius": 3},
      "encoding": {
        "x": {"datum": 1.85, "type": "quantitative", "title": null, "scale": {"domain": [-2.77, 285.7], "nice": false, "zero": false},
          "axis": {"title": null, "labelFlush": false, "labelAlign": "center", "values": [0, 30, 60.2, 89.5, 137.3, 179.1, 208.4, 238.2, 267.7], "labelExpr": "['Mar','8','15','22','Apr','12','19','26','May'][indexof([0,30,60.2,89.5,137.3,179.1,208.4,238.2,267.7], datum.value)]"}},
        "x2": {"datum": 12},
        "y": {"datum": 1.2174, "type": "quantitative", "title": null, "scale": {"domain": [1.16668, 1.22073], "nice": false, "zero": false},
          "axis": {"title": null, "orient": "right", "values": [1.17, 1.175, 1.18, 1.185, 1.19, 1.195, 1.2, 1.205, 1.21, 1.215, 1.22], "format": ".5f"}},
        "y2": {"datum": 1.2157}
      }
    },
    {
      "data": {"values": [{}]},
      "mark": {"type": "text", "text": "\u02c5 9", "color": "#333333", "fontSize": 9.5, "font": "DejaVu Sans", "align": "center", "baseline": "middle"},
      "encoding": {
        "x": {"datum": 6.9, "type": "quantitative", "title": null, "scale": {"domain": [-2.77, 285.7], "nice": false, "zero": false},
          "axis": {"title": null, "labelFlush": false, "labelAlign": "center", "values": [0, 30, 60.2, 89.5, 137.3, 179.1, 208.4, 238.2, 267.7], "labelExpr": "['Mar','8','15','22','Apr','12','19','26','May'][indexof([0,30,60.2,89.5,137.3,179.1,208.4,238.2,267.7], datum.value)]"}},
        "y": {"datum": 1.2166, "type": "quantitative", "title": null, "scale": {"domain": [1.16668, 1.22073], "nice": false, "zero": false},
          "axis": {"title": null, "orient": "right", "values": [1.17, 1.175, 1.18, 1.185, 1.19, 1.195, 1.2, 1.205, 1.21, 1.215, 1.22], "format": ".5f"}}
      }
    },
    {
      "data": {"values": [{}]},
      "mark": {"type": "point", "filled": true, "size": 320, "color": "#eef0f4", "opacity": 1},
      "encoding": {
        "x": {"datum": 297.7, "type": "quantitative", "title": null, "scale": {"domain": [-2.77, 285.7], "nice": false, "zero": false},
          "axis": {"title": null, "labelFlush": false, "labelAlign": "center", "values": [0, 30, 60.2, 89.5, 137.3, 179.1, 208.4, 238.2, 267.7], "labelExpr": "['Mar','8','15','22','Apr','12','19','26','May'][indexof([0,30,60.2,89.5,137.3,179.1,208.4,238.2,267.7], datum.value)]"}},
        "y": {"datum": 1.16498, "type": "quantitative", "title": null, "scale": {"domain": [1.16668, 1.22073], "nice": false, "zero": false},
          "axis": {"title": null, "orient": "right", "values": [1.17, 1.175, 1.18, 1.185, 1.19, 1.195, 1.2, 1.205, 1.21, 1.215, 1.22], "format": ".5f"}}
      }
    },
    {
      "data": {"values": [{}]},
      "mark": {"type": "text", "text": "A", "color": "#555555", "fontSize": 9, "font": "DejaVu Sans", "align": "center", "baseline": "middle"},
      "encoding": {
        "x": {"datum": 297.7, "type": "quantitative", "title": null, "scale": {"domain": [-2.77, 285.7], "nice": false, "zero": false},
          "axis": {"title": null, "labelFlush": false, "labelAlign": "center", "values": [0, 30, 60.2, 89.5, 137.3, 179.1, 208.4, 238.2, 267.7], "labelExpr": "['Mar','8','15','22','Apr','12','19','26','May'][indexof([0,30,60.2,89.5,137.3,179.1,208.4,238.2,267.7], datum.value)]"}},
        "y": {"datum": 1.16498, "type": "quantitative", "title": null, "scale": {"domain": [1.16668, 1.22073], "nice": false, "zero": false},
          "axis": {"title": null, "orient": "right", "values": [1.17, 1.175, 1.18, 1.185, 1.19, 1.195, 1.2, 1.205, 1.21, 1.215, 1.22], "format": ".5f"}}
      }
    }
  ]
}
